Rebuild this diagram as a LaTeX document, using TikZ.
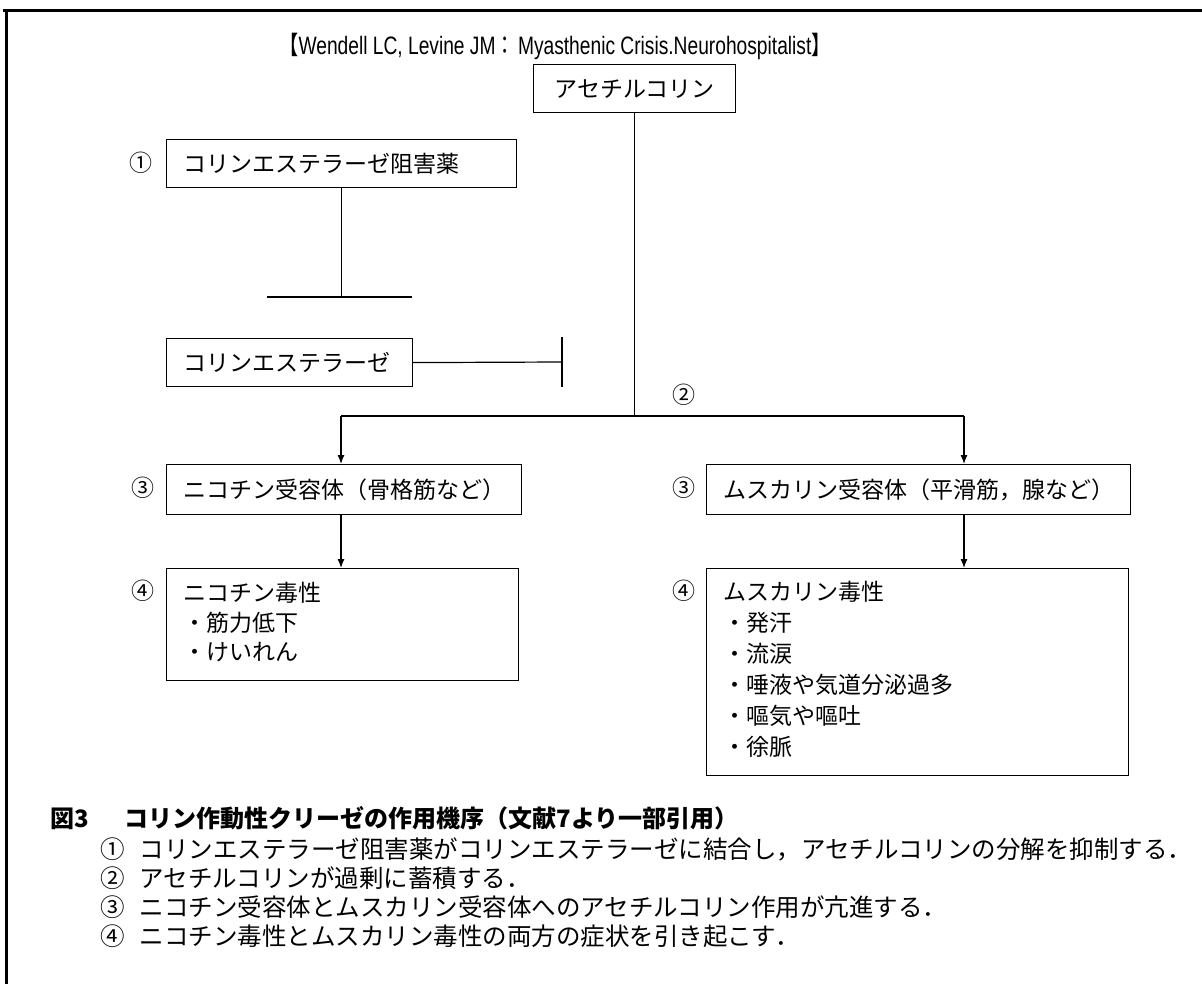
\documentclass[tikz,border=0pt]{standalone}
\usepackage{fontspec}
\setmainfont{Noto Sans CJK JP}
\newfontfamily\latinf{Liberation Sans}
\usetikzlibrary{arrows.meta}
\begin{document}
\begin{tikzpicture}[x=1pt,y=-1pt,
  box/.style={draw, line width=1.2pt, anchor=north west, inner xsep=16.5pt, inner ysep=0pt, minimum height=48pt, font=\fontsize{23}{28}\selectfont},
  num/.style={font=\fontsize{23}{28}\selectfont, inner sep=0pt},
  conn/.style={line width=1.2pt},
  arr/.style={line width=1.2pt, -{Latex[length=9pt,width=7pt]}},
  txt/.style={font=\fontsize{24.5}{29}\selectfont, inner sep=0pt, anchor=west},
  lst/.style={inner sep=0pt, anchor=north west, align=left},
  frame/.style={line width=3pt}
]
\useasboundingbox (0,0) rectangle (1202,984);
% outer frame
\coordinate (fa) at (3,11);
\coordinate (fb) at (1202,11);
\coordinate (fc) at (6,11);
\coordinate (fd) at (6,984);
\draw[frame] (fa) -- (fb);
\draw[frame] (fc) -- (fd);

% reference title
\node[inner sep=0pt, font=\fontsize{24}{28}\selectfont] (ref) at (555,46)
  {\scalebox{0.8}[1.05]{【{\latinf Wendell LC, Levine JM}：\,{\latinf Myasthenic Crisis.Neurohospitalist}】}};

% boxes
\node[box, minimum width=202pt, text width=169pt, align=center] (ach) at (533,64) {アセチルコリン};
\node[box, minimum width=350pt, text width=317pt, align=left] (inh) at (166,139) {コリンエステラーゼ阻害薬};
\node[box, minimum width=246pt, text width=213pt, align=left] (che) at (166,338) {コリンエステラーゼ};
\node[box, minimum height=50pt] (nic) at (166,464) {ニコチン受容体（骨格筋など）};
\node[box, minimum height=50pt] (mus) at (706,464) {ムスカリン受容体（平滑筋，腺など）};
\node[box, minimum width=352pt, minimum height=112pt] (nict) at (166,568) {};
\node[box, minimum width=422pt, minimum height=207pt] (must) at (706,568) {};
\node[lst, font=\fontsize{23}{29.5}\selectfont] (nictx) at (183,582)
  {ニコチン毒性\\・筋力低下\\・けいれん};
\node[lst, font=\fontsize{23}{31}\selectfont] (mustx) at (723,581)
  {ムスカリン毒性\\・発汗\\・流涙\\・唾液や気道分泌過多\\・嘔気や嘔吐\\・徐脈};

% circled numbers
\node[num] (n1) at (141,163) {①};
\node[num] (n2) at (684,395) {②};
\node[num] (n3a) at (143,488) {③};
\node[num] (n3b) at (684,488) {③};
\node[num] (n4a) at (143,591) {④};
\node[num] (n4b) at (684,591) {④};

% connectors
\coordinate (j) at (ach.south |- 0,416);
\coordinate (jl) at (341,416);
\coordinate (jr) at (964,416);
\draw[conn] (ach.south) -- (j);
\draw[conn] (jl) -- (jr);
\draw[arr] (jl) -- (jl |- nic.north);
\draw[arr] (jr) -- (jr |- mus.north);
\draw[arr] (jl |- nic.south) -- (jl |- nict.north);
\draw[arr] (jr |- mus.south) -- (jr |- must.north);

\coordinate (ib) at (inh.south |- 0,297);
\coordinate (ibl) at (267,297);
\coordinate (ibr) at (412,297);
\draw[conn] (inh.south) -- (ib);
\draw[conn] (ibl) -- (ibr);

\coordinate (cb) at (562,362);
\coordinate (cbt) at (562,337);
\coordinate (cbb) at (562,387);
\draw[conn] (che.east) -- (cb);
\draw[conn] (cbt) -- (cbb);

% caption
\node[txt, font=\bfseries\fontsize{24}{29}\selectfont] (cap) at (50,818)
  {図3\hspace{36pt}コリン作動性クリーゼの作用機序（文献7より一部引用）};
\node[txt] (c1) at (100,849) {①\hspace{15pt}コリンエステラーゼ阻害薬がコリンエステラーゼに結合し，アセチルコリンの分解を抑制する．};
\node[txt] (c2) at (100,878) {②\hspace{15pt}アセチルコリンが過剰に蓄積する．};
\node[txt] (c3) at (100,907) {③\hspace{15pt}ニコチン受容体とムスカリン受容体へのアセチルコリン作用が亢進する．};
\node[txt] (c4) at (100,936) {④\hspace{15pt}ニコチン毒性とムスカリン毒性の両方の症状を引き起こす．};
\end{tikzpicture}
\end{document}
